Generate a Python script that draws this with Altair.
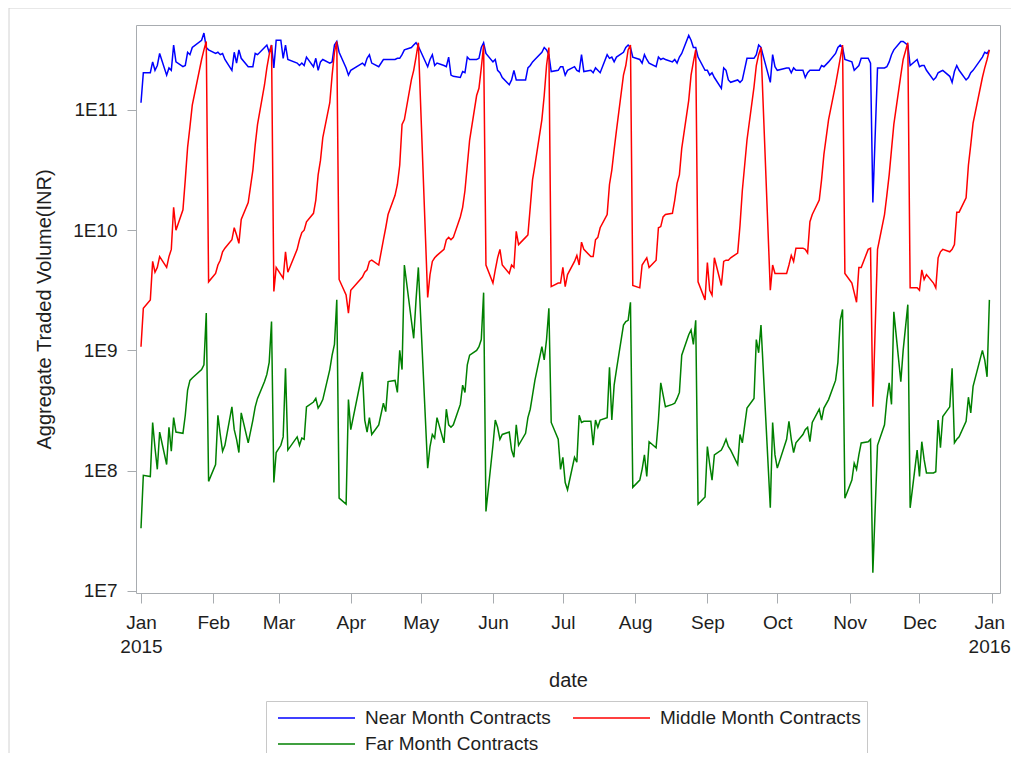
import altair as alt
import pandas as pd

# ---------------- data ----------------
# 2015 trading days (NSE calendar), by month
MONTH_DAYS = {
    1: [1, 2, 5, 6, 7, 8, 9, 12, 13, 14, 15, 16, 19, 20, 21, 22, 23, 27, 28, 29, 30],
    2: [2, 3, 4, 5, 6, 9, 10, 11, 12, 13, 16, 18, 19, 20, 23, 24, 25, 26, 27, 28],
    3: [2, 3, 4, 5, 9, 10, 11, 12, 13, 16, 17, 18, 19, 20, 23, 24, 25, 26, 27, 30, 31],
    4: [1, 6, 7, 8, 9, 10, 13, 15, 16, 17, 20, 21, 22, 23, 24, 27, 28, 29, 30],
    5: [4, 5, 6, 7, 8, 11, 12, 13, 14, 15, 18, 19, 20, 21, 22, 25, 26, 27, 28, 29],
    6: [1, 2, 3, 4, 5, 8, 9, 10, 11, 12, 15, 16, 17, 18, 19, 22, 23, 24, 25, 26, 29, 30],
    7: [1, 2, 3, 6, 7, 8, 9, 10, 13, 14, 15, 16, 17, 20, 21, 22, 23, 24, 27, 28, 29, 30, 31],
    8: [3, 4, 5, 6, 7, 10, 11, 12, 13, 14, 17, 18, 19, 20, 21, 24, 25, 26, 27, 28, 31],
    9: [1, 2, 3, 4, 7, 8, 9, 10, 11, 14, 15, 16, 18, 21, 22, 23, 24, 28, 29, 30],
    10: [1, 5, 6, 7, 8, 9, 12, 13, 14, 15, 16, 19, 20, 21, 23, 26, 27, 28, 29, 30],
    11: [2, 3, 4, 5, 6, 9, 10, 11, 13, 16, 17, 18, 19, 20, 23, 24, 26, 27, 30],
    12: [1, 2, 3, 4, 7, 8, 9, 10, 11, 14, 15, 16, 17, 18, 21, 22, 23, 24, 28, 29, 30, 31],
}

# log10 of aggregate traded volume (INR), one list per month
near_log10 = [
    [11.06, 11.31, 11.31, 11.40, 11.33, 11.37, 11.47, 11.29, 11.35, 11.33, 11.54, 11.40, 11.36, 11.37, 11.48, 11.46, 11.52, 11.58, 11.64, 11.52, 11.50],
    [11.47, 11.48, 11.46, 11.47, 11.42, 11.33, 11.48, 11.39, 11.50, 11.43, 11.36, 11.36, 11.47, 11.46, 11.52, 11.54, 11.48, 11.54, 11.35, 11.58],
    [11.58, 11.43, 11.54, 11.42, 11.39, 11.37, 11.39, 11.37, 11.44, 11.36, 11.43, 11.33, 11.40, 11.42, 11.39, 11.40, 11.54, 11.57, 11.48, 11.35, 11.29],
    [11.33, 11.39, 11.37, 11.43, 11.46, 11.39, 11.36, 11.42, 11.42, 11.42, 11.42, 11.43, 11.43, 11.46, 11.50, 11.52, 11.54, 11.56, 11.53],
    [11.36, 11.42, 11.46, 11.37, 11.39, 11.37, 11.36, 11.44, 11.29, 11.28, 11.27, 11.32, 11.31, 11.44, 11.42, 11.42, 11.43, 11.52, 11.56, 11.47],
    [11.40, 11.42, 11.33, 11.31, 11.27, 11.21, 11.25, 11.33, 11.25, 11.25, 11.25, 11.35, 11.37, 11.40, 11.42, 11.48, 11.52, 11.50, 11.46, 11.32, 11.33, 11.36],
    [11.36, 11.29, 11.33, 11.36, 11.33, 11.32, 11.46, 11.32, 11.33, 11.31, 11.35, 11.33, 11.31, 11.46, 11.43, 11.44, 11.40, 11.44, 11.48, 11.52, 11.54, 11.52, 11.44],
    [11.42, 11.39, 11.46, 11.42, 11.39, 11.36, 11.44, 11.42, 11.43, 11.42, 11.40, 11.42, 11.39, 11.44, 11.47, 11.62, 11.58, 11.52, 11.52, 11.44, 11.33],
    [11.33, 11.29, 11.31, 11.27, 11.18, 11.35, 11.33, 11.25, 11.23, 11.25, 11.23, 11.25, 11.43, 11.43, 11.46, 11.54, 11.52, 11.23, 11.46, 11.36],
    [11.33, 11.35, 11.35, 11.31, 11.35, 11.33, 11.33, 11.27, 11.31, 11.33, 11.33, 11.33, 11.37, 11.36, 11.40, 11.47, 11.52, 11.54, 11.52, 11.42],
    [11.40, 11.33, 11.35, 11.37, 11.43, 11.43, 11.39, 10.23, 11.35, 11.35, 11.36, 11.40, 11.46, 11.50, 11.57, 11.57, 11.54, 11.37, 11.42],
    [11.36, 11.37, 11.37, 11.33, 11.25, 11.27, 11.31, 11.32, 11.33, 11.28, 11.23, 11.32, 11.37, 11.33, 11.25, 11.27, 11.31, 11.33, 11.44, 11.48, 11.47, 11.50],
]

middle_log10 = [
    [9.03, 9.35, 9.42, 9.74, 9.65, 9.69, 9.78, 9.69, 9.78, 9.84, 10.19, 10.00, 10.17, 10.42, 10.69, 10.86, 11.04, 11.42, 11.50, 11.57, 9.57],
    [9.64, 9.71, 9.75, 9.82, 9.85, 9.92, 10.02, 9.96, 9.89, 10.09, 10.23, 10.50, 10.71, 10.88, 11.21, 11.35, 11.46, 11.54, 9.49, 9.69],
    [9.63, 9.60, 9.82, 9.65, 9.84, 9.92, 9.98, 10.00, 10.07, 10.14, 10.25, 10.46, 10.58, 10.77, 11.06, 11.29, 11.48, 11.57, 9.59, 9.46, 9.31],
    [9.50, 9.61, 9.65, 9.67, 9.74, 9.75, 9.71, 9.92, 10.02, 10.13, 10.29, 10.38, 10.54, 10.88, 10.92, 11.25, 11.33, 11.44, 11.56],
    [9.44, 9.63, 9.74, 9.77, 9.79, 9.84, 9.92, 9.94, 9.92, 9.94, 10.11, 10.19, 10.33, 10.54, 10.75, 11.12, 11.18, 11.35, 11.54, 9.71],
    [9.56, 9.67, 9.77, 9.84, 9.71, 9.64, 9.71, 9.69, 9.99, 9.88, 9.94, 9.96, 10.19, 10.42, 10.54, 10.92, 11.12, 11.37, 11.52, 9.53, 9.56, 9.56],
    [9.69, 9.53, 9.63, 9.74, 9.79, 9.71, 9.90, 9.84, 9.78, 9.78, 9.92, 9.94, 10.02, 10.13, 10.38, 10.50, 10.67, 10.83, 11.29, 11.37, 11.50, 11.54, 9.54],
    [9.52, 9.71, 9.74, 9.77, 9.69, 9.75, 10.02, 10.03, 10.11, 10.13, 10.14, 10.25, 10.39, 10.46, 10.68, 11.08, 11.29, 11.40, 11.50, 9.57, 9.42],
    [9.73, 9.50, 9.46, 9.77, 9.54, 9.74, 9.75, 9.75, 9.77, 9.81, 10.04, 10.33, 10.75, 11.19, 11.37, 11.46, 11.52, 9.50, 9.71, 9.64],
    [9.64, 9.64, 9.71, 9.79, 9.74, 9.85, 9.85, 9.84, 9.81, 10.07, 10.13, 10.25, 10.42, 10.63, 10.92, 11.21, 11.32, 11.43, 11.54, 9.64],
    [9.56, 9.48, 9.40, 9.69, 9.69, 9.84, 9.85, 8.53, 9.84, 10.13, 10.29, 10.46, 10.67, 10.88, 11.29, 11.42, 11.56, 9.52, 9.52],
    [9.50, 9.67, 9.59, 9.63, 9.56, 9.52, 9.77, 9.82, 9.84, 9.82, 9.84, 9.88, 10.15, 10.15, 10.27, 10.54, 10.71, 10.89, 11.27, 11.35, 11.42, 11.50],
]

far_log10 = [
    [7.52, 7.96, 7.95, 8.40, 8.19, 8.01, 8.32, 8.05, 8.36, 8.16, 8.44, 8.32, 8.31, 8.46, 8.67, 8.75, 8.77, 8.84, 8.88, 9.31, 7.91],
    [8.05, 8.46, 8.30, 8.16, 8.21, 8.53, 8.34, 8.26, 8.15, 8.48, 8.23, 8.42, 8.53, 8.60, 8.74, 8.80, 8.90, 9.24, 7.90, 8.15],
    [8.21, 8.28, 8.85, 8.17, 8.28, 8.21, 8.27, 8.26, 8.53, 8.57, 8.60, 8.52, 8.55, 8.59, 8.84, 8.96, 9.05, 9.42, 7.77, 7.72, 8.59],
    [8.34, 8.82, 8.42, 8.32, 8.44, 8.30, 8.38, 8.56, 8.49, 8.74, 8.75, 8.65, 9.00, 8.84, 9.71, 9.25, 9.10, 9.42, 9.69],
    [8.02, 8.20, 8.30, 8.27, 8.44, 8.23, 8.51, 8.38, 8.36, 8.38, 8.55, 8.71, 8.65, 8.88, 8.96, 9.00, 9.03, 9.09, 9.48, 7.66],
    [8.21, 8.42, 8.36, 8.26, 8.30, 8.32, 8.17, 8.11, 8.38, 8.21, 8.31, 8.44, 8.51, 8.63, 8.75, 9.03, 8.92, 9.09, 9.35, 8.40, 8.26, 8.01],
    [8.11, 7.90, 7.84, 8.11, 8.07, 8.46, 8.40, 8.41, 8.41, 8.21, 8.42, 8.36, 8.42, 8.44, 8.86, 8.42, 8.71, 8.84, 9.21, 9.24, 9.25, 9.40, 7.86],
    [7.92, 8.01, 8.13, 7.95, 8.24, 8.19, 8.42, 8.73, 8.63, 8.53, 8.55, 8.56, 8.60, 8.65, 8.96, 9.13, 9.17, 9.05, 9.25, 7.72, 7.78],
    [8.20, 8.05, 7.92, 8.13, 8.17, 8.21, 8.26, 8.20, 8.17, 8.05, 8.30, 8.23, 8.52, 8.60, 9.09, 8.98, 9.21, 7.69, 8.40, 8.13],
    [8.02, 8.26, 8.41, 8.26, 8.15, 8.23, 8.30, 8.34, 8.36, 8.24, 8.40, 8.51, 8.42, 8.52, 8.59, 8.75, 8.90, 9.25, 9.34, 7.77],
    [7.92, 8.06, 8.01, 8.13, 8.23, 8.24, 8.26, 7.15, 8.21, 8.38, 8.59, 8.73, 8.55, 9.32, 8.74, 9.00, 9.38, 7.69, 8.17],
    [7.95, 8.24, 8.09, 7.98, 7.98, 7.99, 8.42, 8.19, 8.45, 8.53, 8.85, 8.23, 8.26, 8.28, 8.41, 8.61, 8.48, 8.70, 9.00, 8.92, 8.78, 9.42],
]

SERIES = ["Near Month Contracts", "Middle Month Contracts", "Far Month Contracts"]
COLORS = ["#0000FF", "#FF0000", "#008000"]
Y_TICKS = [1e7, 1e8, 1e9, 1e10, 1e11]

# ---------------- table ----------------
dates = [f"2015-{m:02d}-{d:02d}" for m in range(1, 13) for d in MONTH_DAYS[m]]
rows = []
for name, months in zip(SERIES, [near_log10, middle_log10, far_log10]):
    flat = [v for month in months for v in month]
    assert len(flat) == len(dates)
    for dt, lv in zip(dates, flat):
        rows.append({"date": dt, "series": name, "volume": 10 ** lv})
df = pd.DataFrame(rows)


def ms(s):
    return int(pd.Timestamp(s, tz="UTC").timestamp() * 1000)


x_domain = [ms("2014-12-29 20:31"), ms("2016-01-04 13:12")]
x_ticks = [ms(f"2015-{m:02d}-01") for m in range(1, 13)] + [ms("2016-01-01")]
last_tick = ms("2016-01-01")

FRAME = "#a8acb0"
TEXT = "#1e1e1e"
FONT = "Liberation Sans"

lines = alt.Chart(df).mark_line(strokeWidth=1.5, clip=True).encode(
    x=alt.X(
        "date:T",
        title="date",
        scale=alt.Scale(type="utc", domain=x_domain),
        axis=alt.Axis(
            values=x_ticks,
            labelExpr="utcmonth(datum.value) == 0 ? [utcFormat(datum.value, '%b'), utcFormat(datum.value, '%Y')] : utcFormat(datum.value, '%b')",
            labelOffset={"condition": {"test": f"datum.value >= {last_tick}", "value": -2.5}, "value": 0},
            tickSize=10,
            labelPadding=10,
            labelLineHeight=24,
            labelFlush=False,
            labelOverlap=False,
            titlePadding=14,
        ),
    ),
    y=alt.Y(
        "volume:Q",
        title="Aggregate Traded Volume(INR)",
        scale=alt.Scale(type="log", domain=[10 ** 6.981, 10 ** 11.707]),
        axis=alt.Axis(
            values=Y_TICKS,
            labelExpr="'1E' + round(log(datum.value) / LN10)",
            tickSize=9,
            labelPadding=10,
            titlePadding=18,
        ),
    ),
    color=alt.Color(
        "series:N",
        scale=alt.Scale(domain=SERIES, range=COLORS),
        legend=alt.Legend(
            title=None,
            orient="none",
            legendX=130,
            legendY=676,
            direction="horizontal",
            columns=2,
            symbolType="M-0.5,0H7.2",
            symbolSize=400,
            symbolStrokeWidth=1.5,
            labelOffset=71,
            labelFontSize=19,
            labelLimit=400,
            labelColor=TEXT,
            labelFont=FONT,
            padding=6,
            rowPadding=5,
            columnPadding=16,
            strokeColor="#c8c8c8",
            fillColor="white",
        ),
    ),
)

border = alt.Chart(pd.DataFrame({"k": [0]})).mark_rect(
    fill="transparent", stroke="#d2d2d2", strokeWidth=1, clip=False
).encode(
    x=alt.value(-127), x2=alt.value(1300), y=alt.value(-17), y2=alt.value(1200)
)

chart = alt.layer(border, lines).properties(
    width=864,
    height=568,
    autosize=alt.AutoSizeParams(type="none"),
    padding={"left": 128, "top": 17, "right": 11, "bottom": 160},
).configure(
    font=FONT,
    background="white",
).configure_view(
    stroke=FRAME, strokeWidth=1
).configure_axis(
    domain=False,
    grid=False,
    tickColor=FRAME,
    tickWidth=1,
    labelFontSize=19,
    labelColor=TEXT,
    labelFont=FONT,
    titleFontSize=20,
    titleFontWeight="normal",
    titleColor=TEXT,
    titleFont=FONT,
)

chart.save("out.html", embed_options={"renderer": "svg", "actions": False})
